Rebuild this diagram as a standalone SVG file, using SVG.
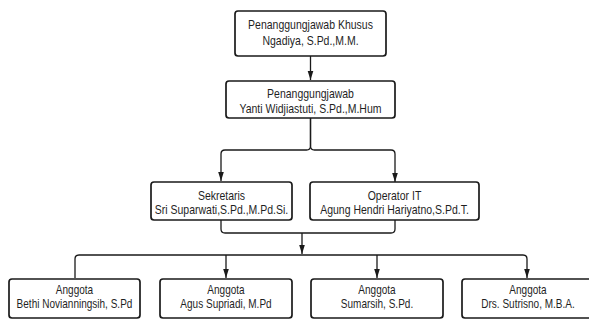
<svg xmlns="http://www.w3.org/2000/svg" width="589" height="320" viewBox="0 0 589 320">
  <style>
    .box { fill: #ffffff; stroke: #1a1a1a; stroke-width: 1.7; }
    .t { font-family: "Liberation Sans", Arial, sans-serif; font-size: 12.5px; fill: #1f1f1f; text-anchor: middle; }
    .ts { font-family: "Liberation Sans", Arial, sans-serif; font-size: 12px; fill: #1f1f1f; text-anchor: middle; }
    .c { fill: none; stroke: #1a1a1a; stroke-width: 1.3; }
    .ca { fill: none; stroke: #1a1a1a; stroke-width: 1.3; marker-end: url(#arr); }
  </style>
  <defs>
    <marker id="arr" markerUnits="userSpaceOnUse" markerWidth="10" markerHeight="7" refX="9" refY="3.5" orient="auto">
      <path d="M0,0.7 L9,3.5 L0,6.3 z" fill="#1a1a1a"/>
    </marker>
  </defs>
  <rect width="589" height="320" fill="#ffffff"/>

  <g id="connectors">
    <path class="ca" d="M310.5,56 V80"/>
    <path class="ca" d="M310.5,118 V146 Q310.5,150 306.5,150 H225 Q221,150 221,154 V181"/>
    <path class="ca" d="M310.5,118 V146 Q310.5,150 314.5,150 H391 Q395,150 395,154 V182"/>
    <path class="c" d="M221,220 V229 Q221,233 225,233 H391 Q395,233 395,229 V220"/>
    <path class="ca" d="M302,233 V254"/>
    <path class="ca" d="M75,278 V259 Q75,255 79,255 H523 Q527,255 527,259 V278"/>
    <path class="ca" d="M226,255 V278"/>
    <path class="ca" d="M377,255 V278"/>
  </g>

  <g id="node-khusus">
    <rect class="box" x="235" y="11" width="151" height="45" rx="3"/>
    <text class="t" transform="translate(310.5,29) scale(0.84,1)">Penanggungjawab Khusus</text>
    <text class="t" transform="translate(310.5,44.5) scale(0.84,1)">Ngadiya, S.Pd.,M.M.</text>
  </g>

  <g id="node-pj">
    <rect class="box" x="226" y="81" width="169" height="37" rx="3"/>
    <text class="t" transform="translate(310.5,98) scale(0.84,1)">Penanggungjawab</text>
    <text class="t" transform="translate(310.5,112.5) scale(0.84,1)">Yanti Widjiastuti, S.Pd.,M.Hum</text>
  </g>

  <g id="node-sekretaris">
    <rect class="box" x="151" y="182" width="141" height="38" rx="3"/>
    <text class="t" transform="translate(221.5,200) scale(0.84,1)">Sekretaris</text>
    <text class="t" transform="translate(221.5,214) scale(0.84,1)">Sri Suparwati,S.Pd.,M.Pd.Si.</text>
  </g>

  <g id="node-operator">
    <rect class="box" x="310" y="182" width="169" height="38" rx="3"/>
    <text class="t" transform="translate(394.5,200) scale(0.84,1)">Operator IT</text>
    <text class="t" transform="translate(394.5,214) scale(0.84,1)">Agung Hendri Hariyatno,S.Pd.T.</text>
  </g>

  <g id="node-anggota1">
    <rect class="box" x="9" y="279" width="131" height="39" rx="3"/>
    <text class="ts" transform="translate(74.5,293.5) scale(0.835,1)">Anggota</text>
    <text class="ts" transform="translate(74.5,307.5) scale(0.835,1)">Bethi Novianningsih, S.Pd</text>
  </g>

  <g id="node-anggota2">
    <rect class="box" x="160" y="279" width="132" height="39" rx="3"/>
    <text class="ts" transform="translate(226,293.5) scale(0.835,1)">Anggota</text>
    <text class="ts" transform="translate(226,307.5) scale(0.835,1)">Agus Supriadi, M.Pd</text>
  </g>

  <g id="node-anggota3">
    <rect class="box" x="311" y="279" width="132" height="39" rx="3"/>
    <text class="ts" transform="translate(377,293.5) scale(0.835,1)">Anggota</text>
    <text class="ts" transform="translate(377,307.5) scale(0.835,1)">Sumarsih, S.Pd.</text>
  </g>

  <g id="node-anggota4">
    <rect class="box" x="462" y="279" width="132" height="39" rx="3"/>
    <text class="ts" transform="translate(528,293.5) scale(0.835,1)">Anggota</text>
    <text class="ts" transform="translate(528,307.5) scale(0.835,1)">Drs. Sutrisno, M.B.A.</text>
  </g>
</svg>
